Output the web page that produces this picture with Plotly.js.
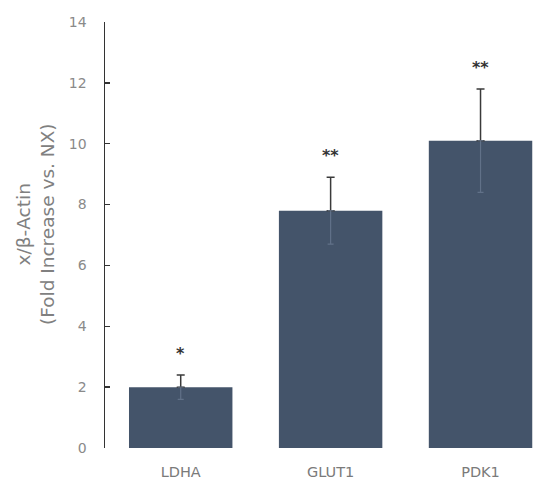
<!DOCTYPE html>
<html>
<head>
<meta charset="utf-8">
<script src="https://cdn.plot.ly/plotly-3.0.1.min.js"></script>
<style>
  html, body { margin: 0; padding: 0; background: #fff; }
  #chart { width: 533px; height: 482px; }
</style>
</head>
<body>
<div id="chart"></div>
<script>
// Relative expression of glycolytic genes (normalised to beta-actin)
const genes = ['LDHA', 'GLUT1', 'PDK1'];
const foldIncrease = [2.0, 7.8, 10.1];
const errorSD = [0.4, 1.1, 1.7];
const significance = ['*', '**', '**'];
const yTicks = [0, 2, 4, 6, 8, 10, 12, 14];

const zeros = errorSD.map(() => 0);

// Bars with the upper whisker drawn in dark grey
const bars = {
  type: 'bar',
  x: genes,
  y: foldIncrease,
  marker: { color: '#44546a' },
  error_y: {
    type: 'data',
    symmetric: false,
    array: errorSD,
    arrayminus: zeros,
    color: '#3a3a3a',
    thickness: 1.5,
    width: 4
  },
  hoverinfo: 'skip'
};

// Lower whisker, faint where it runs over the bar
const lowerWhisker = {
  type: 'bar',
  x: genes,
  y: foldIncrease,
  marker: { color: 'rgba(0,0,0,0)' },
  error_y: {
    type: 'data',
    symmetric: false,
    array: zeros,
    arrayminus: errorSD,
    color: 'rgba(110,125,150,0.7)',
    thickness: 1.2,
    width: 3
  },
  hoverinfo: 'skip'
};

// Significance markers sit above each error bar
const starNotes = genes.map((g, i) => ({
  x: g,
  y: foldIncrease[i] + errorSD[i],
  xref: 'x', yref: 'y',
  text: '<b>' + significance[i] + '</b>',
  showarrow: false,
  yanchor: 'bottom',
  yshift: 10,
  font: { family: 'DejaVu Sans, sans-serif', size: 16, color: '#333' }
}));

const titleNote = {
  xref: 'paper', yref: 'paper',
  x: -0.162, y: 0.525,
  xanchor: 'center', yanchor: 'middle',
  text: 'x/β-Actin<br>(Fold Increase vs. NX)',
  textangle: -90,
  showarrow: false,
  font: { family: 'DejaVu Sans, sans-serif', size: 18.5, color: '#808080' }
};

const layout = {
  width: 533,
  height: 482,
  margin: { l: 105, r: 0, t: 22, b: 34 },
  paper_bgcolor: '#ffffff',
  plot_bgcolor: '#ffffff',
  showlegend: false,
  barmode: 'overlay',
  bargap: 0.31,
  xaxis: {
    type: 'category',
    range: [-0.505, 2.35],
    showline: false,
    showgrid: false,
    zeroline: false,
    ticks: '',
    ticklabelstandoff: 13,
    tickfont: { family: 'DejaVu Sans, sans-serif', size: 14.5, color: '#7a7a7a' }
  },
  yaxis: {
    range: [0, 14],
    tickvals: yTicks,
    ticktext: yTicks.map(String),
    showline: true,
    linecolor: '#333',
    linewidth: 1.5,
    ticks: 'inside',
    ticklen: 5,
    tickwidth: 1.5,
    tickcolor: '#333',
    ticklabelstandoff: 14,
    showgrid: false,
    zeroline: false,
    tickfont: { family: 'DejaVu Sans, sans-serif', size: 14, color: '#8a8a8a' }
  },
  annotations: starNotes.concat([titleNote])
};

Plotly.newPlot('chart', [bars, lowerWhisker], layout, { displayModeBar: false, staticPlot: true });
</script>
</body>
</html>
